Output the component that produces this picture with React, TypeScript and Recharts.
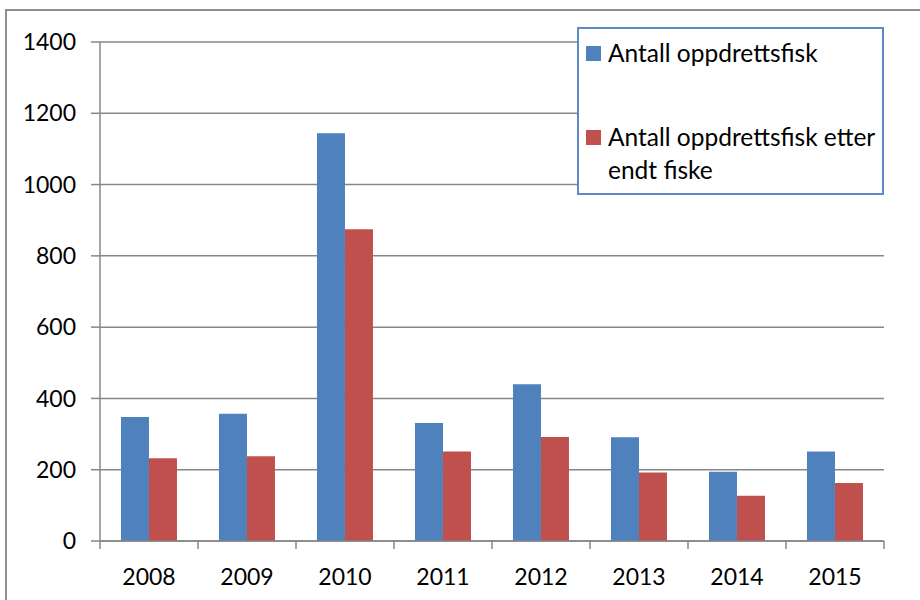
import React from 'react';
import { BarChart, Bar, XAxis, YAxis, CartesianGrid, Legend } from 'recharts';

const years = ['2008', '2009', '2010', '2011', '2012', '2013', '2014', '2015'];
const antallOppdrettsfisk = [348, 357, 1144, 331, 440, 291, 194, 251];
const antallEtterFiske = [232, 238, 875, 251, 292, 192, 127, 163];
const yTicks = [0, 200, 400, 600, 800, 1000, 1200, 1400];

const SERIES_A = 'Antall oppdrettsfisk';
const SERIES_B = 'Antall oppdrettsfisk etter endt fiske';

const data = years.map((y, i) => ({
  year: y,
  a: antallOppdrettsfisk[i],
  b: antallEtterFiske[i],
}));

const W = 920;
const H = 600;
const MARGIN = { top: 42, right: 36, left: 20, bottom: 9 };
const Y_AXIS_W = 80;
const X_AXIS_H = 50;
const X_TICK = 8;
const GRID = '#878787';
const FONT = 'Lato, Calibri, "Open Sans", sans-serif';
const BLUE = '#4F81BD';
const RED = '#C0504D';
const BAND = (W - MARGIN.left - MARGIN.right - Y_AXIS_W) / years.length;

const XTick = (props: any) => {
  const { x, y, payload, index, visibleTicksCount } = props;
  const axisY = y - X_TICK;
  const half = BAND / 2;
  const last = index === visibleTicksCount - 1;
  return (
    <g>
      <line x1={x - half} x2={x - half} y1={axisY} y2={axisY + X_TICK} stroke={GRID} strokeWidth={1.5} />
      {last && (
        <line x1={x + half} x2={x + half} y1={axisY} y2={axisY + X_TICK} stroke={GRID} strokeWidth={1.5} />
      )}
      <text x={x} y={axisY + 44} textAnchor="middle" fill="#000" fontSize={23} fontFamily={FONT}>
        {payload.value}
      </text>
    </g>
  );
};

const LegendBox = (props: any) => {
  const payload = props.payload || [];
  const tops = [7, 91];
  const squareTops = [17, 101];
  return (
    <div
      style={{
        position: 'relative',
        width: 307,
        height: 168,
        boxSizing: 'border-box',
        border: '2px solid #5B8AC6',
        background: '#fff',
        fontFamily: FONT,
        fontSize: 24.5,
        lineHeight: '33px',
        color: '#000',
      }}
    >
      {payload.map((p: any, i: number) => (
        <React.Fragment key={i}>
          <div
            style={{
              position: 'absolute',
              left: 7,
              top: squareTops[i],
              width: 15,
              height: 15,
              background: p.color,
            }}
          />
          <div
            style={{
              position: 'absolute',
              left: 29,
              top: tops[i],
              width: 276,
              textAlign: 'left',
            }}
          >
            {p.value}
          </div>
        </React.Fragment>
      ))}
    </div>
  );
};

export default function App() {
  return (
    <div
      style={{
        position: 'absolute',
        left: 0,
        top: 0,
        width: W,
        height: H,
        overflow: 'hidden',
        background: '#fff',
      }}
    >
      <div
        style={{
          position: 'absolute',
          left: 5,
          top: 9,
          width: W + 20,
          height: H + 20,
          border: '2px solid #8f8f8f',
        }}
      />
      <div style={{ position: 'absolute', left: 0, top: 0 }}>
        <BarChart
          width={W}
          height={H}
          data={data}
          margin={MARGIN}
          barCategoryGap="21.4%"
          barGap={0}
        >
          <CartesianGrid vertical={false} stroke={GRID} strokeWidth={1.5} />
          <XAxis
            dataKey="year"
            height={X_AXIS_H}
            tickLine={false}
            tickSize={X_TICK}
            tickMargin={0}
            axisLine={{ stroke: GRID, strokeWidth: 1.5 }}
            tick={<XTick />}
            interval={0}
          />
          <YAxis
            width={Y_AXIS_W}
            domain={[0, 1400]}
            ticks={yTicks}
            interval={0}
            tickSize={9}
            tickMargin={15}
            axisLine={{ stroke: GRID, strokeWidth: 1.5 }}
            tickLine={{ stroke: GRID, strokeWidth: 1.5 }}
            tick={{ fill: '#000', fontSize: 23, fontFamily: FONT }}
          />
          <Legend
            layout="vertical"
            align="center"
            verticalAlign="middle"
            content={<LegendBox />}
            wrapperStyle={{ left: 577, top: 27, width: 307, height: 168 }}
          />
          <Bar dataKey="a" name={SERIES_A} fill={BLUE} isAnimationActive={false} />
          <Bar dataKey="b" name={SERIES_B} fill={RED} isAnimationActive={false} />
        </BarChart>
      </div>
    </div>
  );
}
